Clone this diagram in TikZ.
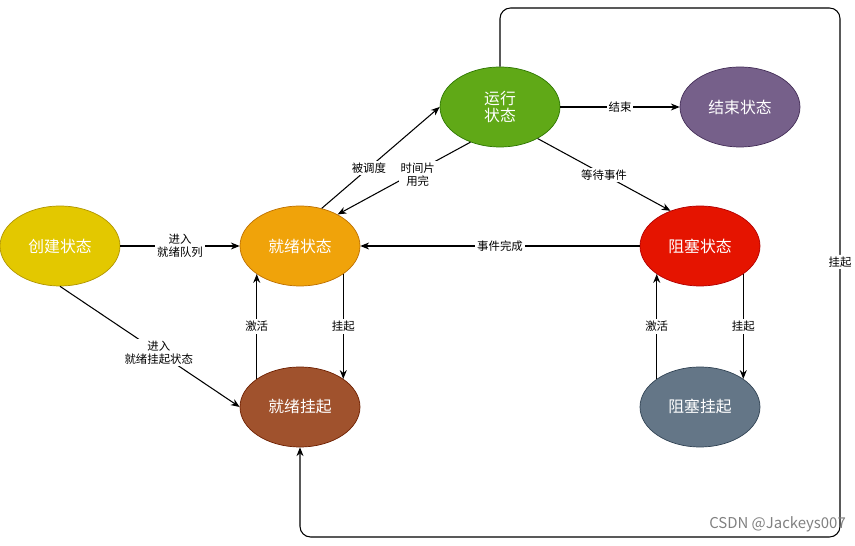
\documentclass[tikz,border=0pt]{standalone}
\usepackage{fontspec}
\setmainfont{Noto Sans CJK SC}
\usetikzlibrary{shapes.geometric, arrows.meta}
\definecolor{cjaune}{HTML}{E3C800}\definecolor{cjauned}{HTML}{B09500}
\definecolor{corange}{HTML}{F0A30A}\definecolor{coranged}{HTML}{BD7000}
\definecolor{cvert}{HTML}{60A917}\definecolor{cvertd}{HTML}{2D7600}
\definecolor{cviolet}{HTML}{76608A}\definecolor{cvioletd}{HTML}{432D57}
\definecolor{crouge}{HTML}{E51400}\definecolor{crouged}{HTML}{B20000}
\definecolor{cbrun}{HTML}{A0522D}\definecolor{cbrund}{HTML}{6D1F00}
\definecolor{cgris}{HTML}{647687}\definecolor{cgrisd}{HTML}{314354}
\tikzset{
  state/.style={ellipse, minimum width=2.4cm, minimum height=1.6cm, inner sep=0pt, text=white, align=center, font=\fontsize{9}{10}\selectfont},
  lbl/.style={fill=white, inner sep=1pt, align=center, font=\fontsize{6.5}{7.5}\selectfont},
  arrow/.style={-{Stealth[length=5pt,width=4pt]}, semithick}
}
\begin{document}
\begin{tikzpicture}[x=0.02cm, y=-0.02cm]
\useasboundingbox (0,0) rectangle (855,546);

\node (create) [state, fill=cjaune, draw=cjauned] at (60,246) {创建状态};
\node (ready) [state, fill=corange, draw=coranged] at (300,246) {就绪状态};
\node (run) [state, fill=cvert, draw=cvertd] at (500,107) {运行\\状态};
\node (finish) [state, fill=cviolet, draw=cvioletd] at (740,107) {结束状态};
\node (block) [state, fill=crouge, draw=crouged] at (700,246) {阻塞状态};
\node (rsusp) [state, fill=cbrun, draw=cbrund] at (300,407) {就绪挂起};
\node (bsusp) [state, fill=cgris, draw=cgrisd] at (700,407) {阻塞挂起};
\coordinate (c1) at (500,8);
\coordinate (c2) at (840,8);
\coordinate (c3) at (840,537);
\coordinate (c4) at (300,537);

\draw [arrow] (create) -- node[lbl] {进入\\就绪队列} (ready);
\draw [arrow] (create.-90) -- node[lbl, pos=0.55] {进入\\就绪挂起状态} (rsusp.west);
\draw [arrow] (ready.60) -- node[lbl, pos=0.4] {被调度} (run.west);
\draw [arrow] (run.-130) -- node[lbl, pos=0.45, xshift=4pt] {时间片\\用完} (ready.40);
\draw [arrow] (run) -- node[lbl] {结束} (finish);
\draw [arrow] (run.-40) -- node[lbl] {等待事件} (block.130);
\draw [arrow] (block) -- node[lbl] {事件完成} (ready);
\draw [arrow] (ready.-33) -- node[lbl] {挂起} (rsusp.33);
\draw [arrow] (rsusp.147) -- node[lbl] {激活} (ready.-147);
\draw [arrow] (block.-33) -- node[lbl] {挂起} (bsusp.33);
\draw [arrow] (bsusp.147) -- node[lbl] {激活} (block.-147);
\draw [arrow, rounded corners=6pt] (run.north) -- (c1) -- (c2) -- node[lbl, pos=0.48] {挂起} (c3) -- (c4) -- (rsusp.south);

\node (mark) [text=gray, font=\fontsize{8.5}{10}\selectfont, anchor=east] at (852,524) {CSDN @Jackeys007};
\end{tikzpicture}
\end{document}
